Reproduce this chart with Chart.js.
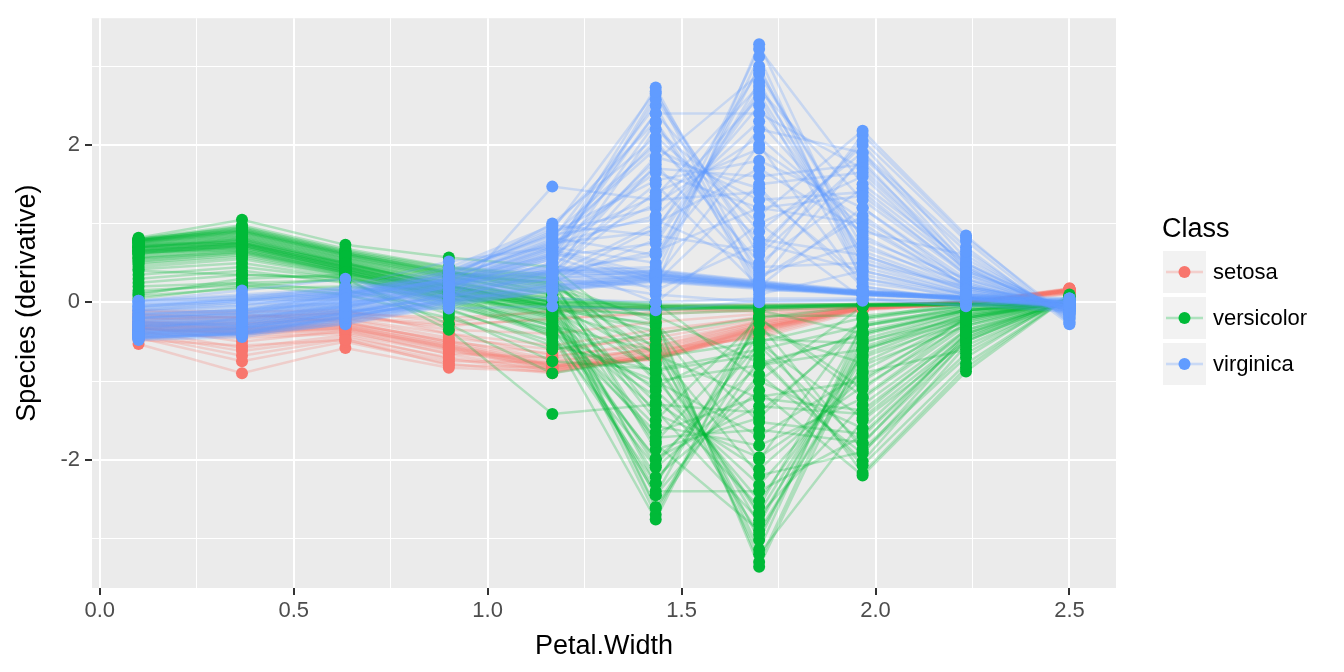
<!DOCTYPE html>
<html>
<head>
<meta charset="utf-8">
<script src="https://cdn.jsdelivr.net/npm/chart.js@4.4.0/dist/chart.umd.min.js"></script>
<style>
  html, body { margin: 0; padding: 0; background: #ffffff; }
  #wrap { width: 1344px; height: 672px; position: relative; }
</style>
</head>
<body>
<div id="wrap"><canvas id="grafico"></canvas></div>
<script>
// grelha de Petal.Width onde as derivadas foram calculadas
const petalWidth = [0.1, 0.3667, 0.6333, 0.9, 1.1667, 1.4333, 1.7, 1.9667, 2.2333, 2.5];

const classes = ["setosa", "versicolor", "virginica"];
const coresClasse = ["#F8766D", "#00BA38", "#619CFF"];

const xTicks = [0, 0.25, 0.5, 0.75, 1, 1.25, 1.5, 1.75, 2, 2.25, 2.5];
const yTicks = [-3, -2, -1, 0, 1, 2, 3];

// curvas (uma linha por observacao, valores em cada ponto da grelha)
const curvasSetosa = [
  [-0.30, -0.35, -0.30, -0.55, -0.80, -0.70, -0.35, -0.08, -0.02, 0.15],
  [-0.32, -0.37, -0.32, -0.58, -0.82, -0.72, -0.36, -0.09, -0.02, 0.15],
  [-0.28, -0.33, -0.28, -0.52, -0.78, -0.68, -0.33, -0.07, -0.01, 0.16],
  [-0.35, -0.40, -0.35, -0.60, -0.85, -0.65, -0.30, -0.06, -0.01, 0.15],
  [-0.26, -0.30, -0.25, -0.50, -0.75, -0.62, -0.30, -0.07, -0.02, 0.14],
  [-0.53, -0.90, -0.58, -0.83, -0.88, -0.60, -0.28, -0.05, 0.00, 0.18],
  [-0.45, -0.75, -0.50, -0.78, -0.90, -0.66, -0.32, -0.08, -0.01, 0.17],
  [-0.40, -0.62, -0.45, -0.70, -0.86, -0.70, -0.34, -0.06, 0.00, 0.16],
  [-0.20, -0.25, -0.20, -0.30, -0.20, -0.15, -0.10, -0.05, 0.00, 0.12],
  [-0.18, -0.22, -0.18, -0.28, -0.22, -0.12, -0.08, -0.04, 0.00, 0.12],
  [-0.15, -0.20, -0.15, -0.35, -0.40, -0.25, -0.15, -0.05, 0.00, 0.13],
  [-0.10, -0.12, -0.10, -0.40, -0.55, -0.35, -0.20, -0.06, -0.01, 0.14],
  [-0.38, -0.45, -0.40, -0.65, -0.70, -0.50, -0.25, -0.06, -0.01, 0.15],
  [-0.25, -0.28, -0.22, -0.45, -0.60, -0.45, -0.22, -0.05, 0.00, 0.14],
  [-0.33, -0.42, -0.38, -0.62, -0.84, -0.69, -0.33, -0.07, -0.02, 0.15],
  [-0.22, -0.18, -0.12, -0.25, -0.10, -0.05, -0.03, -0.02, 0.00, 0.10],
  [-0.48, -0.55, -0.48, -0.75, -0.76, -0.58, -0.28, -0.06, 0.00, 0.17],
  [-0.12, -0.15, -0.25, -0.50, -0.65, -0.40, -0.18, -0.04, 0.00, 0.13],
  [-0.31, -0.50, -0.36, -0.66, -0.87, -0.71, -0.40, -0.08, -0.02, 0.16],
  [-0.36, -0.58, -0.42, -0.72, -0.89, -0.67, -0.42, -0.09, -0.02, 0.17],
  [-0.27, -0.32, -0.27, -0.48, -0.72, -0.60, -0.45, -0.10, -0.02, 0.15],
  [-0.42, -0.68, -0.47, -0.80, -0.83, -0.56, -0.26, -0.05, 0.00, 0.17],
  [-0.24, -0.27, -0.21, -0.40, -0.68, -0.55, -0.24, -0.06, -0.01, 0.14],
  [-0.34, -0.38, -0.33, -0.56, -0.81, -0.73, -0.38, -0.08, -0.02, 0.15],
  [-0.16, -0.19, -0.14, -0.20, -0.12, -0.08, -0.12, -0.04, 0.00, 0.11],
  [-0.29, -0.34, -0.29, -0.54, -0.79, -0.64, -0.31, -0.07, -0.01, 0.15],
  [-0.30, -0.36, -0.31, -0.57, -0.81, -0.69, -0.34, -0.08, -0.02, 0.15],
  [-0.33, -0.39, -0.34, -0.59, -0.83, -0.71, -0.37, -0.08, -0.02, 0.16],
];

const curvasVersicolor = [
  [0.75, 0.85, 0.55, 0.30, 0.00, -2.70, -0.20, -1.10, -0.20, 0.02],
  [0.80, 0.95, 0.65, 0.40, 0.10, -2.60, -0.55, -1.80, -0.40, 0.05],
  [0.60, 0.70, 0.40, 0.10, -0.20, -2.45, -0.10, -0.40, -0.10, 0.00],
  [0.78, 0.90, 0.60, 0.35, 0.25, -0.25, -3.30, -0.50, -0.20, 0.02],
  [0.70, 0.80, 0.50, 0.20, -0.10, -0.55, -3.20, -1.50, -0.50, 0.05],
  [0.50, 0.60, 0.35, 0.00, -0.40, -2.30, -0.40, -2.17, -0.83, 0.08],
  [0.72, 0.82, 0.52, 0.25, 0.05, -1.80, -2.90, -0.80, -0.30, 0.03],
  [0.55, 0.65, 0.38, 0.05, -0.30, -1.20, -2.60, -0.30, -0.05, -0.02],
  [0.82, 1.05, 0.73, 0.57, 0.45, -0.60, -2.20, -1.90, -0.70, 0.10],
  [0.65, 0.75, 0.45, 0.15, -0.45, -2.10, -1.00, -1.60, -0.40, 0.02],
  [0.40, 0.35, 0.30, -0.35, -1.42, -1.30, -1.40, -0.30, -0.10, -0.02],
  [0.76, 0.88, 0.58, 0.32, 0.15, -1.50, -0.20, -1.20, -0.25, 0.04],
  [0.68, 0.78, 0.48, 0.22, -0.05, -0.30, -2.00, -0.20, 0.00, 0.00],
  [0.79, 0.92, 0.62, 0.38, 0.30, -1.00, -1.70, -0.90, -0.60, 0.06],
  [0.58, 0.68, 0.40, 0.08, -0.25, -2.00, -0.80, -0.60, -0.15, 0.00],
  [0.81, 0.98, 0.68, 0.45, 0.35, -0.80, -2.70, -1.30, -0.35, 0.05],
  [0.45, 0.55, 0.33, -0.05, -0.35, -1.65, -1.20, -1.00, -0.20, 0.00],
  [0.74, 0.84, 0.54, 0.28, 0.00, 0.00, -1.00, -0.05, 0.02, -0.03],
  [0.62, 0.72, 0.42, 0.12, -0.15, -2.40, -2.40, -1.70, -0.45, 0.05],
  [0.66, 0.76, 0.46, 0.18, -0.08, -0.90, -2.95, -0.70, -0.25, 0.02],
  [0.77, 0.87, 0.57, 0.33, 0.08, -2.62, -0.72, -2.02, -0.55, 0.03],
  [0.64, 0.74, 0.44, 0.14, -0.18, -2.45, -0.92, -1.92, -0.48, 0.02],
  [0.71, 0.81, 0.51, 0.24, -0.02, -2.22, -1.12, -2.20, -0.88, 0.08],
  [0.53, 0.63, 0.37, 0.03, -0.35, -1.98, -1.32, -1.42, -0.35, 0.00],
  [0.80, 0.94, 0.64, 0.42, 0.30, -1.87, -1.47, -0.22, -0.03, -0.02],
  [0.61, 0.71, 0.41, 0.11, -0.22, -1.72, -1.62, -1.78, -0.50, 0.04],
  [0.57, 0.66, 0.39, 0.06, -0.28, -1.57, -1.82, -1.22, -0.30, 0.02],
  [0.79, 0.91, 0.61, 0.37, 0.22, -1.42, -1.97, -1.07, -0.28, 0.03],
  [0.69, 0.79, 0.49, 0.21, -0.04, -1.27, -2.12, -0.97, -0.22, 0.01],
  [0.63, 0.73, 0.43, 0.13, -0.16, -1.12, -2.32, -0.87, -0.20, 0.02],
  [0.80, 0.96, 0.66, 0.44, 0.32, -0.97, -2.52, -0.67, -0.18, 0.02],
  [0.73, 0.83, 0.53, 0.26, 0.00, -0.77, -2.67, -0.57, -0.15, 0.01],
  [0.56, 0.64, 0.38, 0.04, -0.30, -0.62, -2.82, -0.47, -0.12, 0.00],
  [0.78, 0.90, 0.60, 0.36, 0.20, -0.47, -3.02, -0.37, -0.10, 0.00],
  [0.70, 0.80, 0.50, 0.22, -0.06, -0.37, -3.14, -0.27, -0.08, -0.01],
  [0.48, 0.58, 0.34, -0.02, -0.42, -2.76, -0.17, -0.17, -0.05, -0.02],
  [0.76, 0.86, 0.56, 0.31, 0.10, -2.30, -0.27, -1.87, -0.65, 0.06],
  [0.65, 0.75, 0.45, 0.16, -0.12, -2.07, -0.52, -1.47, -0.42, 0.03],
  [0.79, 0.93, 0.63, 0.39, 0.26, -1.77, -0.37, -0.77, -0.18, 0.02],
  [0.42, 0.50, 0.31, -0.08, -0.55, -0.87, -0.67, -2.07, -0.78, 0.07],
  [0.66, 0.76, 0.46, 0.17, -0.10, -0.27, -1.52, -1.67, -0.45, 0.04],
  [0.52, 0.62, 0.36, 0.02, -0.38, -1.07, -0.47, -0.52, -0.12, 0.00],
  [0.79, 0.92, 0.62, 0.38, 0.24, -0.67, -1.22, -1.37, -0.38, 0.03],
  [0.62, 0.72, 0.42, 0.12, -0.18, -1.37, -2.77, -0.62, -0.16, 0.01],
  [0.70, 0.78, 0.48, 0.20, -0.05, -0.17, -0.77, -0.42, -0.10, -0.01],
  [0.77, 0.89, 0.59, 0.34, 0.18, -0.20, -3.36, -0.60, -0.22, 0.02],
  [0.05, 0.20, 0.30, 0.10, -0.05, -0.10, -0.05, -0.02, -0.02, -0.02],
  [0.10, 0.30, 0.35, 0.20, 0.00, -0.05, -0.08, -0.03, -0.01, -0.03],
  [0.25, 0.35, 0.32, 0.05, -0.10, -0.15, -0.10, -0.05, -0.03, -0.04],
  [0.15, 0.22, 0.10, -0.20, -0.60, -0.40, -0.20, -0.05, -0.02, 0.00],
  [0.35, 0.45, 0.30, -0.28, -0.90, -0.70, -0.50, -0.20, -0.05, 0.02],
  [0.20, 0.25, 0.15, -0.10, -0.50, -1.00, -0.80, -0.40, -0.10, 0.00],
  [0.30, 0.40, 0.25, -0.15, -0.75, -0.85, -0.60, -0.30, -0.08, 0.01],
  [0.08, 0.18, 0.20, 0.05, -0.06, -0.07, -0.06, -0.03, -0.02, -0.02],
  [0.12, 0.25, 0.28, 0.12, -0.03, -0.08, -0.07, -0.04, -0.02, -0.03],
  [0.70, 0.72, 0.45, 0.15, 0.02, -0.05, -0.05, -0.03, -0.02, -0.02],
  [0.68, 0.70, 0.43, 0.13, 0.00, -0.06, -0.06, -0.03, -0.02, -0.02],
  [0.72, 0.74, 0.47, 0.17, 0.04, -0.04, -0.04, -0.02, -0.02, -0.02],
  [0.66, 0.68, 0.40, 0.10, -0.02, -0.08, -0.07, -0.04, -0.03, -0.03],
  [0.74, 0.76, 0.50, 0.20, 0.06, -0.03, -0.03, -0.02, -0.01, -0.01],
  [0.64, 0.66, 0.38, 0.08, -0.04, -0.09, -0.08, -0.04, -0.03, -0.03],
];

const curvasVirginica = [
  [-0.45, -0.40, -0.22, 0.00, 0.18, 0.30, 0.20, 0.10, 0.05, -0.05],
  [-0.43, -0.38, -0.20, 0.02, 0.20, 0.32, 0.21, 0.11, 0.05, -0.05],
  [-0.47, -0.42, -0.25, -0.02, 0.16, 0.28, 0.19, 0.09, 0.04, -0.06],
  [-0.40, -0.36, -0.18, 0.04, 0.22, 0.33, 0.22, 0.12, 0.06, -0.04],
  [-0.44, -0.41, -0.28, -0.05, 0.15, 0.27, 0.18, 0.10, 0.04, -0.07],
  [-0.38, -0.34, -0.16, 0.06, 0.24, 0.35, 0.23, 0.12, 0.06, -0.03],
  [-0.46, -0.39, -0.21, 0.01, 0.19, 0.31, 0.20, 0.10, 0.05, -0.05],
  [-0.36, -0.33, -0.14, 0.08, 0.26, 0.36, 0.24, 0.13, 0.06, -0.03],
  [-0.48, -0.44, -0.27, -0.03, 0.14, 0.26, 0.17, 0.09, 0.04, -0.07],
  [-0.41, -0.37, -0.19, 0.03, 0.21, 0.30, 0.21, 0.11, 0.05, -0.04],
  [-0.42, -0.40, -0.23, 0.00, 0.22, 0.34, 0.22, 0.11, 0.05, -0.05],
  [-0.45, -0.41, -0.24, -0.01, 0.17, 0.29, 0.19, 0.10, 0.05, -0.06],
  [-0.02, 0.05, 0.12, 0.25, 0.38, 0.35, 0.22, 0.12, 0.06, 0.00],
  [0.00, 0.07, 0.14, 0.27, 0.40, 0.37, 0.24, 0.13, 0.07, 0.01],
  [-0.05, 0.02, 0.10, 0.22, 0.35, 0.33, 0.21, 0.11, 0.05, -0.01],
  [0.01, 0.08, 0.16, 0.29, 0.42, 0.38, 0.25, 0.14, 0.07, 0.02],
  [-0.08, 0.00, 0.08, 0.20, 0.32, 0.31, 0.20, 0.10, 0.05, -0.02],
  [-0.10, -0.02, 0.06, 0.18, 0.30, 0.40, 0.26, 0.14, 0.07, 0.00],
  [0.02, 0.10, 0.18, 0.32, 0.45, 0.41, 0.27, 0.15, 0.08, 0.03],
  [-0.03, 0.04, 0.13, 0.26, 0.40, 0.39, 0.25, 0.13, 0.06, 0.00],
  [-0.06, 0.03, 0.11, 0.24, 0.37, 0.36, 0.23, 0.12, 0.06, -0.01],
  [-0.25, -0.30, -0.10, -0.08, -0.05, -0.10, 0.02, 0.03, 0.02, -0.08],
  [-0.15, -0.10, 0.00, 0.10, 0.05, 0.00, 0.05, 0.05, 0.00, -0.10],
  [-0.35, -0.20, -0.05, 0.15, 0.30, 0.10, 0.00, 0.02, -0.03, -0.12],
  [-0.30, -0.25, -0.05, 0.20, 0.60, 2.73, 0.30, 1.10, 0.20, -0.05],
  [-0.35, -0.30, -0.10, 0.15, 0.50, 2.65, 0.60, 1.80, 0.40, -0.10],
  [-0.20, -0.15, 0.05, 0.30, 0.80, 2.50, 0.10, 0.40, 0.10, 0.00],
  [-0.40, -0.35, -0.15, 0.10, 0.30, 0.20, 3.28, 0.50, 0.20, -0.05],
  [-0.25, -0.20, 0.00, 0.25, 0.70, 0.50, 3.22, 1.50, 0.50, -0.15],
  [-0.10, 0.00, 0.15, 0.40, 0.95, 2.30, 0.40, 2.13, 0.82, -0.20],
  [-0.30, -0.28, -0.08, 0.20, 0.55, 1.80, 2.90, 0.80, 0.30, -0.10],
  [-0.15, -0.10, 0.10, 0.35, 0.90, 1.20, 2.60, 0.30, 0.05, 0.05],
  [-0.45, -0.40, -0.20, 0.05, 0.40, 0.60, 2.20, 1.90, 0.70, -0.28],
  [-0.20, -0.12, 0.08, 0.30, 1.00, 2.10, 1.00, 1.60, 0.40, -0.08],
  [0.02, 0.15, 0.30, 0.00, 1.47, 1.30, 1.40, 0.30, 0.10, 0.05],
  [-0.35, -0.30, -0.12, 0.12, 0.45, 1.50, 0.20, 1.20, 0.25, -0.12],
  [-0.28, -0.22, -0.02, 0.22, 0.65, 0.30, 2.00, 0.20, 0.00, 0.00],
  [-0.38, -0.32, -0.14, 0.08, 0.35, 1.00, 1.70, 0.90, 0.60, -0.20],
  [-0.12, -0.05, 0.12, 0.38, 0.85, 2.00, 0.80, 0.60, 0.15, -0.05],
  [-0.42, -0.38, -0.18, 0.02, 0.25, 0.80, 2.70, 1.30, 0.35, -0.15],
  [-0.05, 0.05, 0.20, 0.52, 0.70, 1.65, 1.20, 1.00, 0.20, -0.02],
  [-0.32, -0.26, -0.06, 0.18, 0.50, 0.00, 1.00, 0.05, -0.05, 0.05],
  [-0.22, -0.18, 0.02, 0.28, 0.60, 2.40, 2.40, 1.70, 0.45, -0.18],
  [-0.18, -0.14, 0.06, 0.32, 0.75, 0.90, 2.95, 0.70, 0.25, -0.10],
  [-0.33, -0.28, -0.08, 0.18, 0.55, 2.58, 0.70, 2.00, 0.55, -0.15],
  [-0.27, -0.22, -0.02, 0.24, 0.68, 2.40, 0.90, 1.90, 0.48, -0.12],
  [-0.41, -0.36, -0.16, 0.08, 0.32, 2.20, 1.10, 2.18, 0.85, -0.25],
  [-0.19, -0.13, 0.07, 0.31, 0.78, 1.95, 1.30, 1.40, 0.35, -0.08],
  [-0.36, -0.31, -0.11, 0.13, 0.42, 1.85, 1.45, 0.20, 0.02, 0.02],
  [-0.24, -0.19, 0.01, 0.26, 0.72, 1.70, 1.60, 1.75, 0.50, -0.14],
  [-0.14, -0.08, 0.11, 0.36, 0.88, 1.55, 1.80, 1.20, 0.30, -0.06],
  [-0.39, -0.33, -0.13, 0.11, 0.38, 1.40, 1.95, 1.05, 0.28, -0.10],
  [-0.29, -0.24, -0.04, 0.21, 0.62, 1.25, 2.10, 0.95, 0.22, -0.04],
  [-0.21, -0.16, 0.04, 0.29, 0.74, 1.10, 2.30, 0.85, 0.20, -0.06],
  [-0.44, -0.39, -0.19, 0.04, 0.28, 0.95, 2.50, 0.65, 0.18, -0.08],
  [-0.31, -0.27, -0.07, 0.19, 0.58, 0.75, 2.65, 0.55, 0.15, -0.05],
  [-0.17, -0.11, 0.09, 0.34, 0.82, 0.60, 2.80, 0.45, 0.12, -0.03],
  [-0.37, -0.33, -0.13, 0.11, 0.40, 0.45, 3.00, 0.35, 0.10, -0.02],
  [-0.26, -0.21, -0.01, 0.23, 0.67, 0.35, 3.12, 0.25, 0.08, 0.00],
  [-0.11, -0.04, 0.13, 0.39, 0.92, 2.68, 0.15, 0.15, 0.05, 0.02],
  [-0.34, -0.29, -0.09, 0.16, 0.48, 2.28, 0.25, 1.85, 0.65, -0.22],
  [-0.23, -0.17, 0.03, 0.27, 0.70, 2.05, 0.50, 1.45, 0.42, -0.12],
  [-0.42, -0.37, -0.17, 0.06, 0.30, 1.75, 0.35, 0.75, 0.18, -0.06],
  [-0.07, 0.02, 0.18, 0.44, 0.98, 0.85, 0.65, 2.05, 0.78, -0.26],
  [-0.28, -0.23, -0.03, 0.22, 0.63, 0.25, 1.50, 1.65, 0.45, -0.16],
  [-0.16, -0.09, 0.10, 0.35, 0.86, 1.05, 0.45, 0.50, 0.12, -0.02],
  [-0.39, -0.34, -0.14, 0.09, 0.36, 0.65, 1.20, 1.35, 0.38, -0.12],
  [-0.20, -0.15, 0.05, 0.30, 0.76, 1.35, 2.75, 0.60, 0.16, -0.05],
  [-0.30, -0.25, -0.05, 0.20, 0.58, 0.15, 0.75, 0.40, 0.10, 0.00],
];

const curvasPorClasse = [curvasSetosa, curvasVersicolor, curvasVirginica];

const FONTE = "'Liberation Sans', Arial, Helvetica, sans-serif";
Chart.defaults.font.family = FONTE;

function comAlfa(hex, alfa) {
  const n = parseInt(hex.slice(1), 16);
  return `rgba(${(n >> 16) & 255}, ${(n >> 8) & 255}, ${n & 255}, ${alfa})`;
}

const ehMaiorX = v => Math.abs(v * 2 - Math.round(v * 2)) < 1e-6;
const ehMaiorY = v => Math.abs(v / 2 - Math.round(v / 2)) < 1e-6;

// linhas primeiro (por baixo), pontos depois (por cima)
const datasets = [];
curvasPorClasse.forEach((curvas, k) => {
  curvas.forEach(curva => {
    datasets.push({
      label: classes[k],
      data: petalWidth.map((x, i) => ({ x, y: curva[i] })),
      showLine: true,
      borderColor: comAlfa(coresClasse[k], 0.26),
      borderWidth: 2.5,
      pointRadius: 0,
      tension: 0,
      order: 10 - k,
    });
  });
});
curvasPorClasse.forEach((curvas, k) => {
  const pontos = [];
  curvas.forEach(curva => petalWidth.forEach((x, i) => pontos.push({ x, y: curva[i] })));
  datasets.push({
    label: classes[k] + " pontos",
    data: pontos,
    showLine: false,
    backgroundColor: coresClasse[k],
    borderWidth: 0,
    pointRadius: 6,
    order: 5 - k,
  });
});

// fundo cinzento do painel
const fundoPainel = {
  id: "fundoPainel",
  beforeDraw(chart) {
    const { ctx, chartArea: a } = chart;
    ctx.save();
    ctx.fillStyle = "#ffffff";
    ctx.fillRect(0, 0, chart.width, chart.height);
    ctx.fillStyle = "#EBEBEB";
    ctx.fillRect(a.left, a.top, a.right - a.left, a.bottom - a.top);
    ctx.restore();
  },
};

// legenda no estilo ggplot
const legendaClasse = {
  id: "legendaClasse",
  afterDraw(chart) {
    const ctx = chart.ctx;
    const x0 = chart.chartArea.right + 47;
    ctx.save();
    ctx.fillStyle = "#000000";
    ctx.font = `27px ${FONTE}`;
    ctx.textBaseline = "alphabetic";
    ctx.textAlign = "left";
    ctx.fillText("Class", x0 - 1, 237);
    classes.forEach((nome, k) => {
      const top = 251 + k * 46;
      ctx.fillStyle = "#F2F2F2";
      ctx.fillRect(x0, top, 43, 42);
      const cy = top + 21;
      ctx.strokeStyle = comAlfa(coresClasse[k], 0.28);
      ctx.lineWidth = 2.5;
      ctx.beginPath();
      ctx.moveTo(x0 + 3, cy);
      ctx.lineTo(x0 + 40, cy);
      ctx.stroke();
      ctx.fillStyle = coresClasse[k];
      ctx.beginPath();
      ctx.arc(x0 + 21.5, cy, 6, 0, Math.PI * 2);
      ctx.fill();
      ctx.fillStyle = "#000000";
      ctx.font = `22px ${FONTE}`;
      ctx.textBaseline = "middle";
      ctx.fillText(nome, x0 + 50, cy + 1);
    });
    ctx.restore();
  },
};

new Chart(document.getElementById("grafico"), {
  type: "scatter",
  data: { datasets },
  options: {
    responsive: true,
    maintainAspectRatio: false,
    animation: false,
    devicePixelRatio: 1,
    layout: { padding: { left: 0, right: 228, top: 15, bottom: 0 } },
    plugins: { legend: { display: false }, tooltip: { enabled: false } },
    scales: {
      x: {
        type: "linear",
        min: -0.02,
        max: 2.62,
        afterBuildTicks: eixo => { eixo.ticks = xTicks.map(v => ({ value: v })); },
        afterFit: eixo => { eixo.height = 84; },
        border: { display: false },
        grid: {
          color: "#FFFFFF",
          lineWidth: c => (c.tick && ehMaiorX(c.tick.value) ? 2 : 1),
          tickLength: 7,
          tickWidth: 2,
          tickColor: c => (c.tick && ehMaiorX(c.tick.value) ? "#333333" : "rgba(0,0,0,0)"),
        },
        ticks: {
          autoSkip: false,
          maxRotation: 0,
          padding: 3,
          color: "#4D4D4D",
          font: { size: 22 },
          callback: v => (ehMaiorX(v) ? v.toFixed(1) : ""),
        },
        title: { display: true, text: "Petal.Width", color: "#000000", font: { size: 27 }, padding: { top: 0, bottom: 9 } },
      },
      y: {
        type: "linear",
        min: -3.63,
        max: 3.61,
        afterBuildTicks: eixo => { eixo.ticks = yTicks.map(v => ({ value: v })); },
        afterFit: eixo => { eixo.width = 92; },
        border: { display: false },
        grid: {
          color: "#FFFFFF",
          lineWidth: c => (c.tick && ehMaiorY(c.tick.value) ? 2 : 1),
          tickLength: 7,
          tickWidth: 2,
          tickColor: c => (c.tick && ehMaiorY(c.tick.value) ? "#333333" : "rgba(0,0,0,0)"),
        },
        ticks: {
          autoSkip: false,
          padding: 5,
          color: "#4D4D4D",
          font: { size: 22 },
          callback: v => (ehMaiorY(v) ? String(v) : ""),
        },
        title: { display: true, text: "Species (derivative)", color: "#000000", font: { size: 27 }, padding: { top: 11, bottom: 0 } },
      },
    },
  },
  plugins: [fundoPainel, legendaClasse],
});
</script>
</body>
</html>
